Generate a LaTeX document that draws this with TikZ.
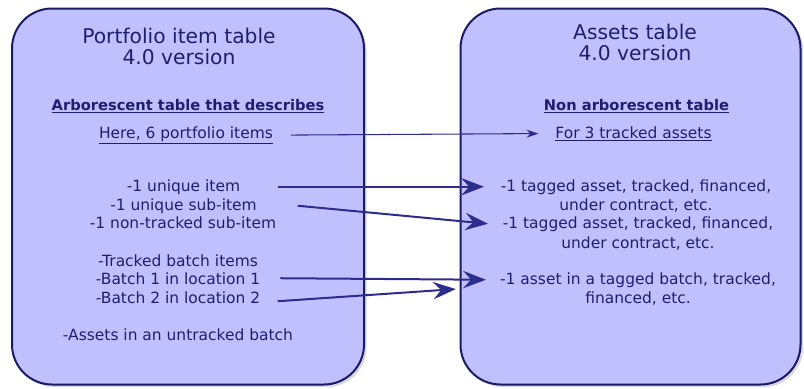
\documentclass[tikz,border=0pt]{standalone}
\usepackage{fontspec}
\setmainfont{DejaVu Sans}
\usetikzlibrary{arrows.meta,shadows}
\definecolor{boxfill}{RGB}{192,192,255}
\definecolor{boxline}{RGB}{26,26,105}
\definecolor{ink}{RGB}{30,30,110}
\definecolor{arrowink}{RGB}{44,44,140}
\begin{document}
\begin{tikzpicture}[
            x=0.75pt, y=-0.75pt,
            tablebox/.style={rectangle, draw=boxline, line width=1.5pt, fill=boxfill,
              rounded corners=30pt,
              drop shadow={shadow xshift=2pt, shadow yshift=-2pt, opacity=0.3}},
            tabletitle/.style={text=ink, font=\fontsize{15.2}{15.75}\selectfont, align=center},
            heading/.style={text=ink, font=\fontsize{11}{12}\selectfont\bfseries, inner sep=0pt, anchor=base},
            entry/.style={text=ink, font=\fontsize{11.6}{12}\selectfont, inner sep=0pt, anchor=base},
            linkthin/.style={draw=arrowink, line width=0.8pt, -{Stealth[length=9pt,width=6pt]}},
            linkthick/.style={draw=arrowink, line width=1.5pt, -{Stealth[length=17pt,width=13pt,inset=6pt]}},
            ]
            \useasboundingbox (0,0) rectangle (804,389);
            % the two tables
            \node[tablebox, minimum width=264pt, minimum height=282pt] (portfolio) at (188,196.5) {};
            \node[tablebox, minimum width=255pt, minimum height=282pt] (assets) at (630.5,196.5) {};
            \node[tabletitle] (ptitle) at (179,46) {Portfolio item table\\4.0 version};
            \node[tabletitle] (atitle) at (635,42.5) {Assets table\\4.0 version};
            % left column
            \node[heading] (arbo) at (188,110) {\underline{Arborescent table that describes}};
            \node[entry] (here) at (186,138) {\underline{Here, 6 portfolio items}};
            \node[entry] (uniq) at (183.5,191) {-1 unique item};
            \node[entry] (subitem) at (183.5,210) {-1 unique sub-item};
            \node[entry] (nontracked) at (183,228) {-1 non-tracked sub-item};
            \node[entry] (trackedbatch) at (178,266) {-Tracked batch items};
            \node[entry] (batchone) at (178,284) {-Batch 1 in location 1};
            \node[entry] (batchtwo) at (178,303) {-Batch 2 in location 2};
            \node[entry] (untracked) at (178,340) {-Assets in an untracked batch};
            % right column
            \node[heading] (nonarbo) at (636.5,110) {\underline{Non arborescent table}};
            \node[entry] (forthree) at (633.5,138) {\underline{For 3 tracked assets}};
            \node[entry] (taggedone) at (636,191) {-1 tagged asset, tracked, financed,};
            \node[entry] (contractone) at (636,210) {under contract, etc.};
            \node[entry] (taggedtwo) at (638,228) {-1 tagged asset, tracked, financed,};
            \node[entry] (contracttwo) at (638,248) {under contract, etc.};
            \node[entry] (batchasset) at (638,284) {-1 asset in a tagged batch, tracked,};
            \node[entry] (financed) at (638,303) {financed, etc.};
            % links
            \draw[linkthin] ([xshift=13.5pt]here.east) -- ([xshift=-12.5pt]forthree.west);
            \draw[linkthick] ([xshift=28.5pt]uniq.east) -- ([xshift=-12.5pt]taggedone.west);
            \draw[linkthick] ([xshift=30.5pt]subitem.east) -- ([xshift=-11pt]taggedtwo.west);
            \draw[linkthick] ([xshift=15pt]batchone.east) -- ([xshift=-10.5pt]batchasset.west);
            \draw[linkthick] ([xshift=13pt,yshift=-3pt]batchtwo.east) -- ([xshift=-33pt,yshift=-7pt]batchasset.west);
\end{tikzpicture}
\end{document}
